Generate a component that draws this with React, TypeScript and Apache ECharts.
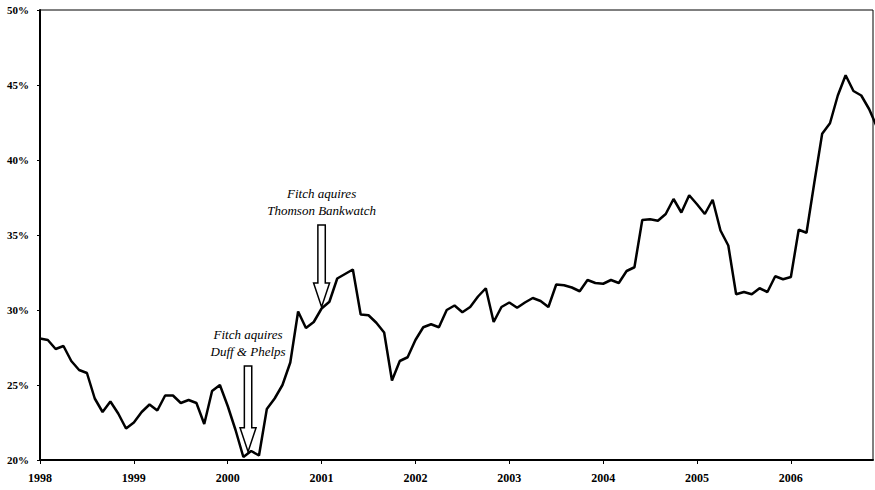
import React, { useEffect, useRef } from "react";
import * as echarts from "echarts";

const startYear = 1998;
const monthsShown = 106.5;
const yMin = 20;
const yMax = 50;
const yStep = 5;

// Monthly values, Jan 1998 onward (percent)
const ratioValues = [
  28.1, 28.0, 27.4, 27.6, 26.6, 26.0, 25.8, 24.1, 23.2, 23.9, 23.1, 22.1,
  22.5, 23.2, 23.7, 23.3, 24.3, 24.3, 23.8, 24.0, 23.8, 22.4, 24.6, 25.0,
  23.6, 22.0, 20.2, 20.6, 20.3, 23.4, 24.1, 25.0, 26.5, 29.9, 28.8, 29.2,
  30.1, 30.55, 32.1, 32.4, 32.7, 29.7, 29.65, 29.15, 28.5, 25.3, 26.6, 26.85,
  28.0, 28.85, 29.05, 28.85, 30.0, 30.3, 29.85, 30.2, 30.9, 31.45, 29.2, 30.2,
  30.5, 30.15, 30.5, 30.8, 30.6, 30.2, 31.7, 31.65, 31.5, 31.25, 32.0, 31.8,
  31.75, 32.0, 31.8, 32.6, 32.85, 36.0, 36.05, 35.95, 36.4, 37.4, 36.5, 37.65,
  37.05, 36.4, 37.35, 35.3, 34.3, 31.05, 31.2, 31.05, 31.45, 31.2, 32.25, 32.05,
  32.2, 35.35, 35.15, 38.5, 41.75, 42.45, 44.3, 45.65, 44.6, 44.3, 43.4, 42.2,
];

const annotationLines = [
  ["Fitch aquires", "Duff & Phelps"],
  ["Fitch aquires", "Thomson Bankwatch"],
];
const annotationMonths = [26.6, 36.0];
const arrowTipValues = [20.55, 30.2];
const arrowTopValues = [26.27, 35.67];

export default function App() {
  const ref = useRef<HTMLDivElement>(null);

  useEffect(() => {
    if (!ref.current) return;
    const chart = echarts.init(ref.current, undefined, { renderer: "svg" });
    const axisFont = '"Liberation Serif", serif';
    chart.setOption({
      animation: false,
      backgroundColor: "#fff",
      grid: {
        left: 40,
        right: 2,
        top: 10,
        bottom: 30,
        show: true,
        borderColor: "#000",
        borderWidth: 1,
        backgroundColor: "transparent",
      },
      xAxis: {
        type: "value",
        min: 0,
        max: monthsShown,
        interval: 12,
        splitLine: { show: false },
        axisLine: { lineStyle: { color: "#000", width: 2 } },
        axisTick: { show: true, length: 4, lineStyle: { color: "#000", width: 1 } },
        axisLabel: {
          color: "#000",
          fontFamily: axisFont,
          fontWeight: "bold",
          fontSize: 12,
          margin: 12,
          showMaxLabel: false,
          formatter: (v: number) => (v % 12 === 0 ? String(startYear + v / 12) : ""),
        },
      },
      yAxis: {
        type: "value",
        min: yMin,
        max: yMax,
        interval: yStep,
        splitLine: { show: false },
        axisLine: { show: true, lineStyle: { color: "#000", width: 2 } },
        axisTick: { show: true, length: 3, lineStyle: { color: "#000", width: 1 } },
        axisLabel: {
          color: "#000",
          fontFamily: axisFont,
          fontWeight: "bold",
          fontSize: 11,
          margin: 11,
          formatter: "{value}%",
        },
      },
      series: [
        {
          type: "line",
          data: ratioValues.map((v, i) => [i, v]),
          showSymbol: false,
          symbol: "none",
          clip: true,
          lineStyle: { color: "#000", width: 2.5 },
        },
      ],
    });

    const graphics: any[] = [];
    annotationLines.forEach((lines, k) => {
      const tip = chart.convertToPixel({ gridIndex: 0 }, [annotationMonths[k], arrowTipValues[k]]) as number[];
      const top = chart.convertToPixel({ gridIndex: 0 }, [annotationMonths[k], arrowTopValues[k]]) as number[];
      const x = tip[0];
      const yTip = tip[1];
      const yTop = top[1];
      const yHead = yTip - 24;
      const sw = 3.7;
      const hw = 8;
      graphics.push({
        type: "polygon",
        shape: {
          points: [
            [x - sw, yTop],
            [x + sw, yTop],
            [x + sw, yHead],
            [x + hw, yHead],
            [x, yTip],
            [x - hw, yHead],
            [x - sw, yHead],
          ],
        },
        style: { fill: "none", stroke: "#000", lineWidth: 1.5 },
        z: 10,
      });
      lines.forEach((t, j) => {
        graphics.push({
          type: "text",
          x,
          y: yTop - 31 + j * 17,
          style: {
            text: t,
            textAlign: "center",
            textVerticalAlign: "middle",
            font: 'italic 13px "Liberation Serif", serif',
            fill: "#000",
          },
          z: 10,
        });
      });
    });
    chart.setOption({ graphic: graphics });

    return () => chart.dispose();
  }, []);

  return (
    <div
      ref={ref}
      style={{ position: "fixed", left: 0, top: 0, width: 875, height: 490, background: "#fff" }}
    />
  );
}
